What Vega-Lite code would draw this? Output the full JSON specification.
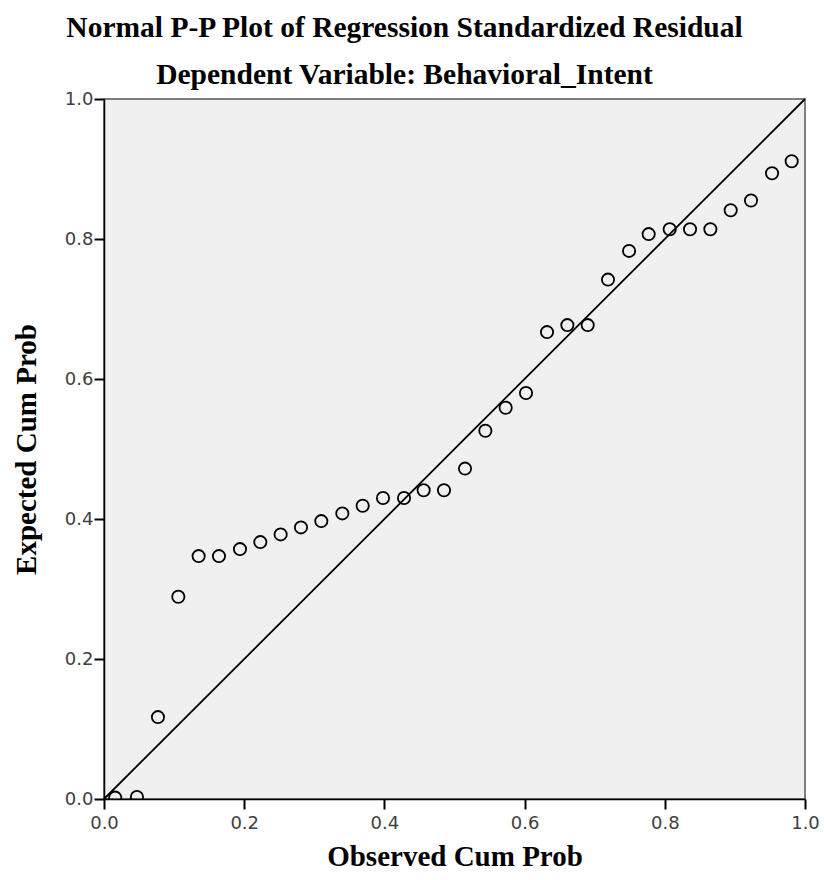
{
  "$schema": "https://vega.github.io/schema/vega-lite/v6.json",
  "autosize": {"type": "none"},
  "padding": {"left": 104, "top": 99, "right": 19, "bottom": 81},
  "width": 701,
  "height": 700,
  "background": "white",
  "title": {
    "text": ["Normal P-P Plot of Regression Standardized Residual", "Dependent Variable: Behavioral_Intent"],
    "font": "Liberation Serif",
    "fontSize": 29.5,
    "fontWeight": "bold",
    "color": "#000000",
    "lineHeight": 47,
    "anchor": "middle",
    "dx": -50,
    "offset": 0
  },
  "datasets": {
    "points": [
      {"observed": 0.016, "expected": 0.002},
      {"observed": 0.047, "expected": 0.003},
      {"observed": 0.077, "expected": 0.117},
      {"observed": 0.106, "expected": 0.289},
      {"observed": 0.135, "expected": 0.347},
      {"observed": 0.164, "expected": 0.347},
      {"observed": 0.194, "expected": 0.357},
      {"observed": 0.223, "expected": 0.367},
      {"observed": 0.252, "expected": 0.378},
      {"observed": 0.281, "expected": 0.388},
      {"observed": 0.310, "expected": 0.397},
      {"observed": 0.340, "expected": 0.408},
      {"observed": 0.369, "expected": 0.419},
      {"observed": 0.398, "expected": 0.430},
      {"observed": 0.428, "expected": 0.430},
      {"observed": 0.456, "expected": 0.441},
      {"observed": 0.485, "expected": 0.441},
      {"observed": 0.515, "expected": 0.472},
      {"observed": 0.544, "expected": 0.526},
      {"observed": 0.573, "expected": 0.559},
      {"observed": 0.602, "expected": 0.580},
      {"observed": 0.632, "expected": 0.667},
      {"observed": 0.661, "expected": 0.677},
      {"observed": 0.690, "expected": 0.677},
      {"observed": 0.719, "expected": 0.742},
      {"observed": 0.749, "expected": 0.783},
      {"observed": 0.777, "expected": 0.807},
      {"observed": 0.807, "expected": 0.814},
      {"observed": 0.836, "expected": 0.814},
      {"observed": 0.865, "expected": 0.814},
      {"observed": 0.894, "expected": 0.841},
      {"observed": 0.923, "expected": 0.855},
      {"observed": 0.953, "expected": 0.894},
      {"observed": 0.981, "expected": 0.911}
    ],
    "diagonal": [
      {"observed": 0, "expected": 0},
      {"observed": 1, "expected": 1}
    ]
  },
  "config": {
    "view": {"fill": "#f0f0f0", "stroke": "#555555", "strokeWidth": 1.5},
    "axis": {
      "grid": false,
      "domainColor": "#000000",
      "domainWidth": 1.5,
      "labelFlush": false,
      "labelFont": "DejaVu Sans",
      "labelFontSize": 18,
      "labelColor": "#404040",
      "titleFont": "Liberation Serif",
      "titleFontSize": 29,
      "titleFontWeight": "bold",
      "titleColor": "#000000"
    }
  },
  "layer": [
    {
      "data": {"name": "points"},
      "mark": {"type": "point", "shape": "circle", "filled": false, "stroke": "#000000", "strokeWidth": 1.8, "size": 150, "opacity": 1, "clip": true},
      "encoding": {
        "x": {"field": "observed", "type": "quantitative", "scale": {"domain": [0, 1], "nice": false}, "axis": {"title": "Observed Cum Prob", "tickCount": 5, "format": ".1f", "ticks": true, "tickSize": 10, "tickWidth": 2, "tickColor": "#000000", "labelPadding": 5, "titlePadding": 10}},
        "y": {"field": "expected", "type": "quantitative", "scale": {"domain": [0, 1], "nice": false}, "axis": {"title": "Expected Cum Prob", "tickCount": 5, "format": ".1f", "ticks": true, "tickSize": 10, "tickWidth": 2, "tickColor": "#000000", "labelPadding": 1, "titlePadding": 23}}
      }
    },
    {
      "data": {"name": "diagonal"},
      "mark": {"type": "line", "color": "#000000", "strokeWidth": 1.8},
      "encoding": {
        "x": {"field": "observed", "type": "quantitative"},
        "y": {"field": "expected", "type": "quantitative"}
      }
    }
  ]
}
